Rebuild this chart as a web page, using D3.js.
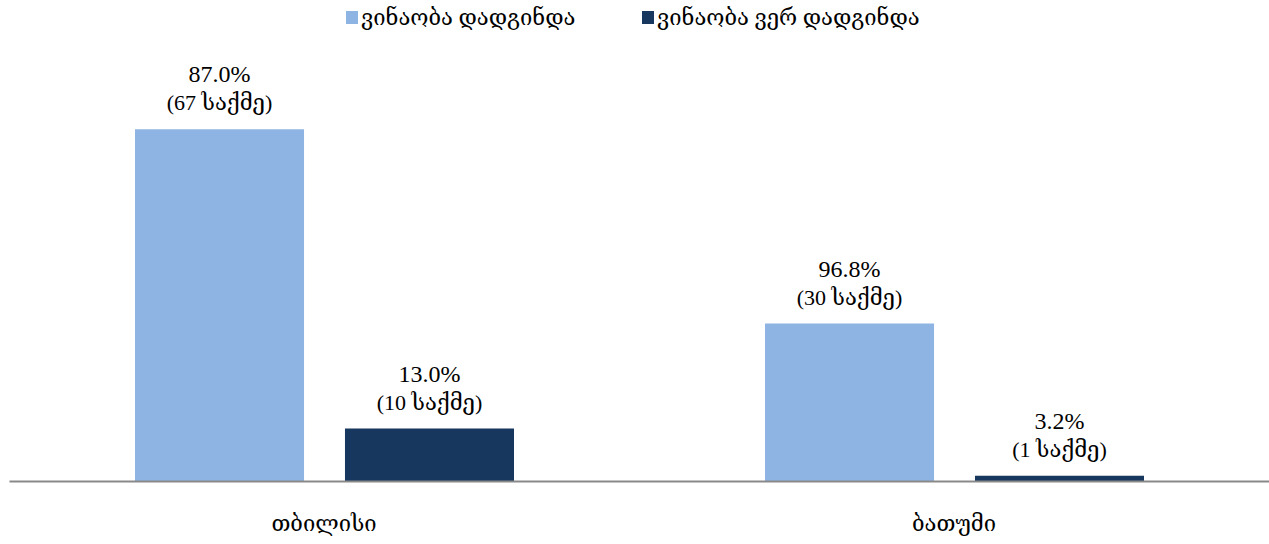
<!DOCTYPE html>
<html>
<head>
<meta charset="utf-8">
<script src="https://cdn.jsdelivr.net/npm/d3@7"></script>
<style>
  body { margin: 0; background: #fff; }
  text { font-family: "Liberation Serif", "DejaVu Serif", serif; fill: #000; }
</style>
</head>
<body>
<div id="chart"></div>
<script>
// ---------------  DATA  ---------------
const cities = ["თბილისი", "ბათუმი"];
const seriesNames = ["ვინაობა დადგინდა", "ვინაობა ვერ დადგინდა"];
const seriesColors = ["#8eb4e3", "#17375e"];
const cases = [[67, 30], [10, 1]];       // per series, per city
const pctLabels = [["87.0%", "96.8%"], ["13.0%", "3.2%"]];

const w = 1269, h = 544;
const baseY = 481, topY = 61;

const svg = d3.select("#chart").append("svg").attr("width", w).attr("height", h);

// ---------------  SCALES  ---------------
const x0 = d3.scaleBand().domain(cities).range([9, 1269]);
const x1 = d3.scaleBand().domain(seriesNames).range([126, 505]).paddingInner(0.195);
const y = d3.scaleLinear().domain([0, 80]).range([baseY, topY]);

// ---------------  BARS  ---------------
seriesNames.forEach((s, si) => {
  const g = svg.append("g");
  g.selectAll("rect")
    .data(cases[si])
    .enter()
    .append("rect")
    .attr("x", (d, ci) => x0(cities[ci]) + x1(s))
    .attr("y", (d) => y(d))
    .attr("width", x1.bandwidth())
    .attr("height", (d) => baseY - y(d))
    .attr("fill", seriesColors[si]);

  // value labels
  g.selectAll("text.pct")
    .data(cases[si])
    .enter()
    .append("text")
    .attr("class", "pct")
    .attr("text-anchor", "middle")
    .attr("x", (d, ci) => x0(cities[ci]) + x1(s) + x1.bandwidth() / 2)
    .attr("y", (d) => y(d) - 47)
    .style("font-size", "24px")
    .text((d, ci) => pctLabels[si][ci]);
  g.selectAll("text.cnt")
    .data(cases[si])
    .enter()
    .append("text")
    .attr("class", "cnt")
    .attr("text-anchor", "middle")
    .attr("x", (d, ci) => x0(cities[ci]) + x1(s) + x1.bandwidth() / 2)
    .attr("y", (d) => y(d) - 19)
    .style("font-size", "22px")
    .text((d) => "(" + d + " საქმე)");
});

// ---------------  AXIS  ---------------
const xAxis = svg.append("g")
  .attr("transform", "translate(0," + baseY + ")")
  .call(d3.axisBottom(x0).tickSize(0).tickPadding(34));
xAxis.select(".domain").attr("stroke", "#898989").attr("stroke-width", 2);
xAxis.selectAll("text")
  .style("font-size", "22px")
  .style("font-family", "'Liberation Serif', 'DejaVu Serif', serif")
  .attr("fill", "#000");

// ---------------  LEGEND  ---------------
const legendX = [346, 642];
const legend = svg.append("g");
seriesNames.forEach((s, si) => {
  legend.append("rect")
    .attr("x", legendX[si]).attr("y", 11)
    .attr("width", 12).attr("height", 13)
    .attr("fill", seriesColors[si]);
  legend.append("text")
    .attr("x", legendX[si] + 15).attr("y", 25)
    .style("font-size", "22px")
    .text(s);
});
</script>
</body>
</html>
